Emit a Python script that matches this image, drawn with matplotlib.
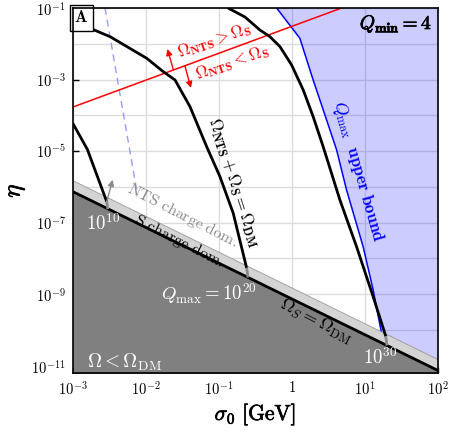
import numpy as np
import matplotlib
matplotlib.use("Agg")
import matplotlib.pyplot as plt
import matplotlib.patheffects as pe
from matplotlib.ticker import NullFormatter

plt.rcParams['mathtext.fontset'] = 'cm'
plt.rcParams['font.family'] = ['DejaVu Serif']

# ---------------- data (log10 values) ----------------
# Omega_S = Omega_DM boundary and top of the "S charge dom." band
sigma_bound = [1e-3, 1e2]
eta_omegaS = [7.4e-7, 7.4e-12]
eta_band_top = [1.5e-6, 1.5e-11]

# Omega_NTS + Omega_S = Omega_DM curves (log10 sigma, log10 eta)
c1_lsig = [-3.0, -2.8, -2.535]
c1_leta = [-4.22, -4.95, -6.41]

c2_lsig = [-3.0, -2.763, -2.49, -1.988, -1.761, -1.6, -1.395, -1.167, -0.985, -0.803, -0.62]
c2_leta = [-1.45, -1.567, -1.80, -2.405, -2.779, -3.011, -3.757, -4.874, -5.712, -6.735, -8.263]

c3_lsig = [-0.875, -0.643, -0.438, -0.301, -0.163, -0.004, 0.155, 0.291, 0.428, 0.657, 0.885, 1.112, 1.286]
c3_leta = [-1.0, -1.251, -1.615, -1.80, -2.081, -2.592, -3.29, -4.036, -4.874, -6.363, -7.668, -9.064, -10.18]

# Q_max upper bound (blue)
qb_lsig = [-0.209, 0.109, 0.291, 0.475, 0.612, 0.748, 0.975, 1.112, 1.227]
qb_leta = [-1.0, -1.846, -3.011, -4.128, -4.966, -6.084, -7.668, -8.877, -10.087]

# dashed light-blue line
dash_lsig = [-2.558, -2.114]
dash_leta = [-1.0, -6.22]

# Omega_NTS = Omega_S (red)
red_sigma = [1e-3, 4.8]
red_eta = [1.7e-4, 1e-1]

xticks = [1e-3, 1e-2, 1e-1, 1, 1e1, 1e2]
xticklabels = [r'$10^{-3}$', r'$10^{-2}$', r'$10^{-1}$', r'$1$', r'$10^{1}$', r'$10^{2}$']
yticks = [1e-11, 1e-9, 1e-7, 1e-5, 1e-3, 1e-1]
yticklabels = [r'$10^{-11}$', r'$10^{-9}$', r'$10^{-7}$', r'$10^{-5}$', r'$10^{-3}$', r'$10^{-1}$']
ygrid_minor = [1e-10, 1e-8, 1e-6, 1e-4, 1e-2]

# ---------------- figure ----------------
fig = plt.figure(figsize=(4.49, 4.32), dpi=100)
ax = fig.add_axes([0.162, 0.1366, 0.8135, 0.8449])
ax.set_xscale('log')
ax.set_yscale('log')
ax.set_xlim(1e-3, 1e2)
ax.set_ylim(10**-11.2, 1e-1)

p = lambda a: 10**np.asarray(a, dtype=float)

ax.set_xticks(xticks)
ax.set_xticklabels(xticklabels)
ax.set_yticks(yticks)
ax.set_yticklabels(yticklabels)
ax.set_xticks([], minor=True)
ax.set_yticks(ygrid_minor, minor=True)
ax.yaxis.set_minor_formatter(NullFormatter())
ax.xaxis.set_minor_formatter(NullFormatter())
ax.tick_params(which='major', direction='in', length=4, width=1, labelsize=10.5, pad=5)
ax.tick_params(which='minor', length=0)
ax.grid(True, which='both', color='#dcdcdc', lw=1, zorder=0)
ax.set_axisbelow(True)

# blue Q_max region
bx = np.concatenate([p(qb_lsig), [1e2, 1e2]])
by = np.concatenate([p(qb_leta), [1e-12, 1e-1]])
ax.fill(bx, by, color='blue', alpha=0.2, lw=0, zorder=1)
ax.plot(p(qb_lsig), p(qb_leta), color='blue', lw=1.1, zorder=2)

# light gray band and dark region
sb = np.array(sigma_bound)
ax.fill_between(sb, eta_omegaS, eta_band_top, color='#d4d4d4', lw=0, zorder=3)
ax.plot(sb, eta_band_top, color='#a0a0a0', lw=0.7, zorder=3)
ax.fill_between(sb, [1e-13, 1e-13], eta_omegaS, color='#808080', lw=0, zorder=3)
ax.plot(sb, eta_omegaS, color='black', lw=2, zorder=4)

# dashed blue line
ax.plot(p(dash_lsig), p(dash_leta), color='#9a9aff', lw=1.0, dashes=(5, 3.5), zorder=2)

# red line
ax.plot(red_sigma, red_eta, color='red', lw=1.1, zorder=2)

# black curves
for ls, le in [(c1_lsig, c1_leta), (c2_lsig, c2_leta), (c3_lsig, c3_leta)]:
    ax.plot(p(ls), p(le), color='black', lw=2, zorder=4, solid_capstyle='butt')

# gray continuations inside the band
for s0, e0, s1, e1 in [(-2.535, -6.41, -2.52, -6.62), (-0.62, -8.263, -0.60, -8.53),
                       (1.286, -10.18, 1.30, -10.43)]:
    ax.plot([10**s0, 10**s1], [10**e0, 10**e1], color='#8a8a8a', lw=2, zorder=4,
            solid_capstyle='butt')

# arrows
ax.annotate('', xy=(10**-1.704, 10**-2.145), xytext=(10**-1.622, 10**-2.732),
            arrowprops=dict(arrowstyle='-|>', color='red', lw=1.0, mutation_scale=9,
                            shrinkA=0, shrinkB=0), zorder=5)
ax.annotate('', xy=(10**-1.382, 10**-3.235), xytext=(10**-1.464, 10**-2.62),
            arrowprops=dict(arrowstyle='-|>', color='red', lw=1.0, mutation_scale=9,
                            shrinkA=0, shrinkB=0), zorder=5)
ax.annotate('', xy=(10**-2.453, 10**-5.8), xytext=(10**-2.535, 10**-6.41),
            arrowprops=dict(arrowstyle='-|>', color='#8a8a8a', lw=1.0, mutation_scale=9,
                            shrinkA=0, shrinkB=0), zorder=5)

bold = [pe.withStroke(linewidth=0.5, foreground='black')]

# texts
ax.text(0.004, 0.996, r'$\mathbf{A}$', transform=ax.transAxes, ha='left', va='top',
        fontsize=12, zorder=6,
        bbox=dict(boxstyle='square,pad=0.28', fc='white', ec='black', lw=1))
ax.text(0.984, 0.956, r'$Q_{\mathbf{min}}=4$', transform=ax.transAxes, ha='right',
        va='center', fontsize=14, zorder=6, path_effects=bold)

ax.text(10**-1.06, 10**-1.91, r'$\Omega_{\mathbf{NTS}}>\Omega_{\mathbf{S}}$', color='red',
        fontsize=12, rotation=19, ha='center', va='center', zorder=6)
ax.text(10**-0.818, 10**-2.53, r'$\Omega_{\mathbf{NTS}}<\Omega_{\mathbf{S}}$', color='red',
        fontsize=12, rotation=19, ha='center', va='center', zorder=6)

ax.text(10**-0.80, 10**-5.86, r'$\Omega_{\mathbf{NTS}}+\Omega_{\mathbf{S}}=\Omega_{\mathbf{DM}}$',
        fontsize=12.5, rotation=-72, ha='center', va='center', zorder=6)
ax.text(10**0.90, 10**-5.58, r'$Q_{\rm max}\ \ \mathbf{upper\ bound}$', color='blue',
        fontsize=12.5, rotation=-74, ha='center', va='center', zorder=6)

ax.text(10**-1.50, 10**-6.78, r'$\mathrm{NTS\ charge\ dom.}$', color='#8a8a8a',
        fontsize=11.5, rotation=-27, ha='center', va='center', zorder=6)
ax.text(10**-1.546, 10**-7.50, r'$\mathrm{S\ charge\ dom.}$', color='black',
        fontsize=11.5, rotation=-27, ha='center', va='center', zorder=6)
ax.text(10**0.33, 10**-9.77, r'$\Omega_S=\Omega_{\rm DM}$', color='black',
        fontsize=13, rotation=-27, ha='center', va='center', zorder=6)

ax.text(10**-1.132, 10**-8.99, r'$Q_{\rm max}=10^{20}$', color='white',
        fontsize=13.5, ha='center', va='center', zorder=6)
ax.text(10**-2.585, 10**-7.03, r'$10^{10}$', color='white',
        fontsize=13.5, ha='center', va='center', zorder=6)
ax.text(10**1.204, 10**-10.78, r'$10^{30}$', color='white',
        fontsize=13.5, ha='center', va='center', zorder=6)
ax.text(10**-2.804, 10**-10.89, r'$\Omega<\Omega_{\rm DM}$', color='white',
        fontsize=14, ha='left', va='center', zorder=6)

ax.set_xlabel(r'$\sigma_0\ [\mathrm{GeV}]$', fontsize=15.5, labelpad=3,
              path_effects=bold)
ax.set_ylabel(r'$\eta$', fontsize=18, labelpad=3, path_effects=bold)

for s in ax.spines.values():
    s.set_linewidth(1.2)
    s.set_zorder(7)

fig.savefig('out.png', dpi=100)
